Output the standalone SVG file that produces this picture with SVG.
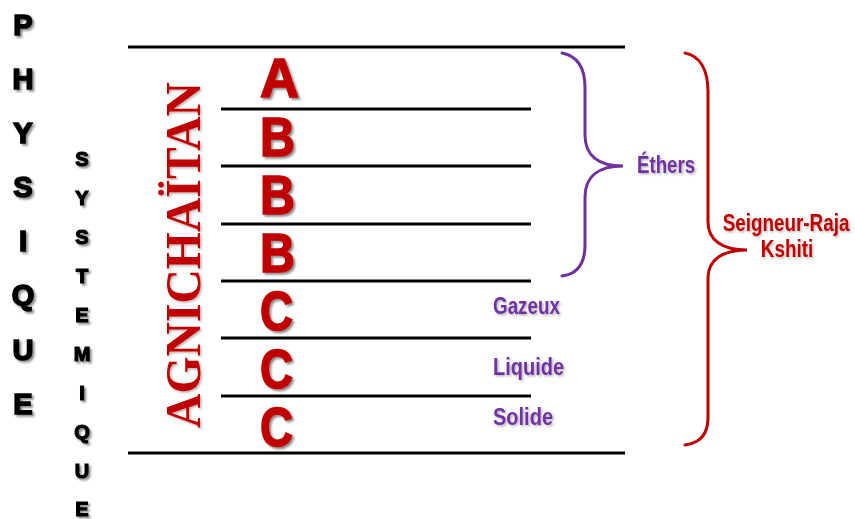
<svg xmlns="http://www.w3.org/2000/svg" width="855" height="519" viewBox="0 0 855 519">
<defs>
<filter id="sh" x="-30%" y="-30%" width="160%" height="160%">
<feDropShadow dx="2" dy="2" stdDeviation="1.2" flood-color="#000" flood-opacity="0.45"/>
</filter>
<filter id="shs" x="-30%" y="-30%" width="160%" height="160%">
<feDropShadow dx="1.5" dy="1.5" stdDeviation="1" flood-color="#000" flood-opacity="0.3"/>
</filter>
</defs>
<style>
.ln{stroke:#000;stroke-width:3;fill:none}
.blk{font-family:"Liberation Sans",Arial,sans-serif;font-weight:bold;fill:#000;stroke:#000;text-anchor:middle}
.big{font-family:"Liberation Sans",Arial,sans-serif;font-weight:bold;fill:#c00000;stroke:#c00000;stroke-width:1.6;font-size:55px}
.lbl{font-family:"Liberation Sans",Arial,sans-serif;font-weight:bold;font-size:23px}
.pur{fill:#7030a0}
.red{fill:#c00000}
.br{fill:none;stroke-width:3;stroke-linecap:round}
</style>
<rect width="855" height="519" fill="#fff"/>

<g id="physique" class="blk" font-size="29" stroke-width="1.6" filter="url(#sh)">
<text x="23" y="35">P</text>
<text x="23" y="89">H</text>
<text x="23" y="143">Y</text>
<text x="23" y="197">S</text>
<text x="23" y="251">I</text>
<text x="23" y="305">Q</text>
<text x="23" y="360">U</text>
<text x="23" y="414">E</text>
</g>

<g id="systemique" class="blk" font-size="20" stroke-width="1.2" filter="url(#sh)">
<text x="82" y="166">S</text>
<text x="82" y="205">Y</text>
<text x="82" y="244">S</text>
<text x="82" y="283">T</text>
<text x="82" y="322">E</text>
<text x="82" y="361">M</text>
<text x="82" y="400">I</text>
<text x="82" y="439">Q</text>
<text x="82" y="478">U</text>
<text x="82" y="516">E</text>
</g>

<g id="agnichaitan" filter="url(#shs)">
<text transform="translate(200,428) rotate(-90)" x="0" y="0" font-family="'Liberation Serif','Times New Roman',serif" font-weight="bold" font-size="50" fill="#c00000" textLength="346" lengthAdjust="spacingAndGlyphs">AGNICHAÏTAN</text>
</g>

<g id="connectors">
<line class="ln" x1="128" y1="47" x2="625" y2="47"/>
<line class="ln" x1="221" y1="109" x2="531" y2="109"/>
<line class="ln" x1="221" y1="166" x2="531" y2="166"/>
<line class="ln" x1="221" y1="224" x2="531" y2="224"/>
<line class="ln" x1="221" y1="281" x2="531" y2="281"/>
<line class="ln" x1="221" y1="338" x2="531" y2="338"/>
<line class="ln" x1="221" y1="396" x2="531" y2="396"/>
<line class="ln" x1="128" y1="453" x2="625" y2="453"/>
</g>

<g id="letters" class="big" filter="url(#sh)">
<text x="260" y="97" textLength="39" lengthAdjust="spacingAndGlyphs">A</text>
<text x="260" y="156" textLength="35" lengthAdjust="spacingAndGlyphs">B</text>
<text x="260" y="214" textLength="35" lengthAdjust="spacingAndGlyphs">B</text>
<text x="260" y="272" textLength="35" lengthAdjust="spacingAndGlyphs">B</text>
<text x="260" y="330" textLength="33" lengthAdjust="spacingAndGlyphs">C</text>
<text x="260" y="388" textLength="33" lengthAdjust="spacingAndGlyphs">C</text>
<text x="260" y="446" textLength="33" lengthAdjust="spacingAndGlyphs">C</text>
</g>

<g id="ethers-brace">
<path class="br" stroke="#7030a0" d="M562,53 C578,56 585,68 585,88 L585,135 C585,155 598,166 623,166 C598,166 585,177 585,197 L585,245 C585,263 578,274 562,276"/>
<text class="lbl pur" x="637" y="173" textLength="58" lengthAdjust="spacingAndGlyphs" filter="url(#shs)">Éthers</text>
</g>

<g id="states">
<text class="lbl pur" x="493" y="314" textLength="67" lengthAdjust="spacingAndGlyphs" filter="url(#shs)">Gazeux</text>
<text class="lbl pur" x="493" y="375" textLength="71" lengthAdjust="spacingAndGlyphs" filter="url(#shs)">Liquide</text>
<text class="lbl pur" x="493" y="425" textLength="60" lengthAdjust="spacingAndGlyphs" filter="url(#shs)">Solide</text>
</g>

<g id="kshiti-brace">
<path class="br" stroke="#c00000" d="M685,53 C700,56 708,70 708,92 L708,222 C708,240 722,250 747,250 C722,250 708,260 708,278 L708,418 C708,435 700,443 685,445"/>
<text class="lbl red" transform="translate(786,231) scale(0.82,1)" x="0" y="0" text-anchor="middle" filter="url(#shs)">Seigneur-Raja</text>
<text class="lbl red" transform="translate(787,257) scale(0.82,1)" x="0" y="0" text-anchor="middle" filter="url(#shs)">Kshiti</text>
</g>
</svg>
